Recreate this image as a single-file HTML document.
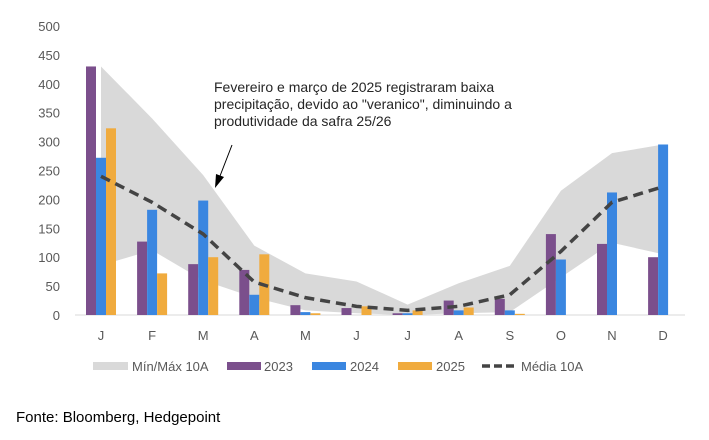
<!DOCTYPE html>
<html><head><meta charset="utf-8"><style>
body{margin:0;background:#fff;width:709px;height:435px;overflow:hidden;font-family:"Liberation Sans",sans-serif}
</style></head><body>
<svg id="s" width="709" height="435" xmlns="http://www.w3.org/2000/svg" font-family="Liberation Sans, sans-serif"></svg>
<script>
const s=document.getElementById('s');
const Y=v=>315-v*0.578, X=i=>101+i*51.1;
let h='';
const mx=[430,340,242,120,72,58,18,55,85,215,280,295];
const mn=[86,112,60,30,8,3,0,3,5,65,125,105];
let pts=mx.map((v,i)=>X(i)+','+Y(v)).join(' ')+' '+mn.map((v,i)=>X(i)+','+Y(v)).reverse().join(' ');
h+=`<polygon points="${pts}" fill="#d9d9d9"/>`;
for(let v=0;v<=500;v+=50){h+=`<text x="60" y="${Y(v)+5}" text-anchor="end" font-size="13" fill="#595959">${v}</text>`;}
h+=`<line x1="75" x2="685" y1="315" y2="315" stroke="#d9d9d9"/>`;
const a=[430,127,88,78,17,12,3,25,28,140,123,100];
const b=[272,182,198,35,5,0,3,8,8,96,212,295];
const c=[323,72,100,105,3,15,8,13,2,0,0,0];
const L=['J','F','M','A','M','J','J','A','S','O','N','D'];
for(let i=0;i<12;i++){const x=X(i);
[[a,'#7b4f8c',-15],[b,'#3a86e0',-5],[c,'#f0ab3e',5]].forEach(([d,col,o])=>{if(d[i]>0)h+=`<rect x="${x+o}" y="${Y(d[i])}" width="10" height="${d[i]*0.578}" fill="${col}"/>`;});
h+=`<text x="${x}" y="340" text-anchor="middle" font-size="13" fill="#595959">${L[i]}</text>`;}
const m=[240,195,140,57,30,15,8,15,35,110,195,222];
h+=`<polyline points="${m.map((v,i)=>X(i)+','+Y(v)).join(' ')}" fill="none" stroke="#444" stroke-width="3.5" stroke-dasharray="10,6"/>`;
h+=`<text font-size="14" fill="#262626"><tspan x="214" y="92">Fevereiro e março de 2025 registraram baixa</tspan><tspan x="214" y="109">precipitação, devido ao "veranico", diminuindo a</tspan><tspan x="214" y="126">produtividade da safra 25/26</tspan></text>`;
h+=`<line x1="232" y1="145" x2="220" y2="176" stroke="#000"/><polygon points="215,188 216,174 224,177" fill="#000"/>`;
h+=`<rect x="93" y="362" width="35" height="8" fill="#d9d9d9"/><text x="132" y="371" font-size="13" fill="#595959">Mín/Máx 10A</text>`;
h+=`<rect x="227" y="362" width="34" height="8" fill="#7b4f8c"/><text x="264" y="371" font-size="13" fill="#595959">2023</text>`;
h+=`<rect x="312" y="362" width="34" height="8" fill="#3a86e0"/><text x="350" y="371" font-size="13" fill="#595959">2024</text>`;
h+=`<rect x="398" y="362" width="34" height="8" fill="#f0ab3e"/><text x="436" y="371" font-size="13" fill="#595959">2025</text>`;
h+=`<line x1="482" x2="514" y1="366" y2="366" stroke="#444" stroke-width="3.5" stroke-dasharray="8,4"/><text x="521" y="371" font-size="13" fill="#595959">Média 10A</text>`;
h+=`<text x="16" y="422" font-size="15" fill="#000">Fonte: Bloomberg, Hedgepoint</text>`;
s.innerHTML=h;
</script>
</body></html>
